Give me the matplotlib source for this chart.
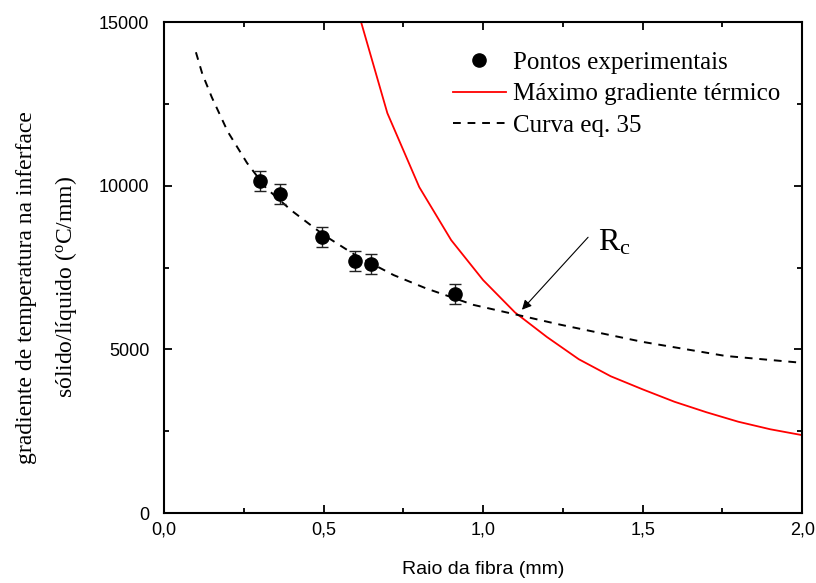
import numpy as np
import matplotlib
matplotlib.use("Agg")
import matplotlib.pyplot as plt
from matplotlib.lines import Line2D
from matplotlib.ticker import MultipleLocator, FuncFormatter

plt.rcParams['mathtext.fontset'] = 'custom'
plt.rcParams['mathtext.rm'] = 'Liberation Serif'
plt.rcParams['mathtext.it'] = 'Liberation Serif:italic'

# experimental points
raio_exp = [0.30, 0.364, 0.495, 0.599, 0.649, 0.912]
grad_exp = [10140, 9745, 8430, 7700, 7610, 6690]
erro_exp = [300, 300, 300, 300, 300, 300]

# maximum thermal gradient
raio_max = [0.6, 0.7, 0.8, 0.9, 1.0, 1.1, 1.2, 1.3, 1.4, 1.5, 1.6, 1.7, 1.8, 1.9, 2.0]
grad_max = [15600, 12220, 9960, 8340, 7120, 6130, 5380, 4700, 4180, 3780, 3400, 3080, 2790, 2560, 2380]

# curve eq. 35
raio_eq = [0.10, 0.12, 0.15, 0.20, 0.26, 0.32, 0.40, 0.50, 0.60, 0.72, 0.82, 0.97, 1.11, 1.24, 1.50, 1.76, 2.00]
grad_eq = [14080, 13420, 12700, 11650, 10700, 9930, 9240, 8500, 7880, 7270, 6870, 6360, 6050, 5760, 5230, 4800, 4590]

fig = plt.figure(figsize=(8.16, 5.83), dpi=100)
ax = fig.add_axes([0.201, 0.120, 0.782, 0.842])

ax.errorbar(raio_exp, grad_exp, yerr=erro_exp, fmt='o', color='black', ms=9.5,
            ecolor='#222222', elinewidth=1.0, capsize=4, capthick=1.0, zorder=3)
ax.plot(raio_max, grad_max, color='red', lw=1.3)
ax.plot(raio_eq, grad_eq, color='black', lw=1.4, ls=(0, (4, 3.5)))

ax.annotate('', xy=(1.116, 6150), xytext=(1.335, 8490),
            arrowprops=dict(arrowstyle='-|>', color='black', lw=0.8, mutation_scale=14))
ax.text(1.36, 8035, r'R$_{\mathrm{c}}$', fontsize=23, family='Liberation Serif',
        ha='left', va='baseline')

ax.set_xlim(0, 2.0)
ax.set_ylim(0, 15000)
ax.xaxis.set_major_locator(MultipleLocator(0.5))
ax.xaxis.set_minor_locator(MultipleLocator(0.25))
ax.yaxis.set_major_locator(MultipleLocator(5000))
ax.yaxis.set_minor_locator(MultipleLocator(2500))
ax.xaxis.set_major_formatter(FuncFormatter(lambda v, p: ('%.1f' % v).replace('.', ',')))
ax.yaxis.set_major_formatter(FuncFormatter(lambda v, p: '%d' % v))

ax.tick_params(which='both', direction='in', top=True, right=True, width=1.3)
ax.tick_params(which='major', length=6, labelsize=13)
ax.tick_params(axis='x', which='major', pad=6)
ax.tick_params(axis='y', which='major', pad=10.5)
ax.tick_params(which='minor', length=3.5)
for lab in ax.get_xticklabels() + ax.get_yticklabels():
    lab.set_family('Liberation Sans')
for s in ax.spines.values():
    s.set_linewidth(1.5)

ax.set_xlabel('Raio da fibra (mm)', fontsize=14, family='Liberation Sans', labelpad=16)
ax.set_ylabel(u'gradiente de temperatura na inferface\nsólido/líquido ($^{\\mathrm{o}}$C/mm)',
              fontsize=17, family='Liberation Serif', linespacing=1.85)
ax.yaxis.set_label_coords(-0.133, 0.46)

handles = [Line2D([], [], ls='none', marker='o', color='black', ms=9.5),
           Line2D([], [], color='red', lw=1.3),
           Line2D([], [], color='black', lw=1.4, ls=(0, (4, 3.5)))]
labels = ['Pontos experimentais', u'Máximo gradiente térmico', 'Curva eq. 35']
ax.legend(handles, labels, loc='upper left', frameon=False,
          prop={'family': 'Liberation Serif', 'size': 18},
          handlelength=2.1, handletextpad=0.3, labelspacing=0.35,
          bbox_to_anchor=(0.453, 0.94), borderaxespad=0, borderpad=0)

fig.savefig('out.png', dpi=100)
